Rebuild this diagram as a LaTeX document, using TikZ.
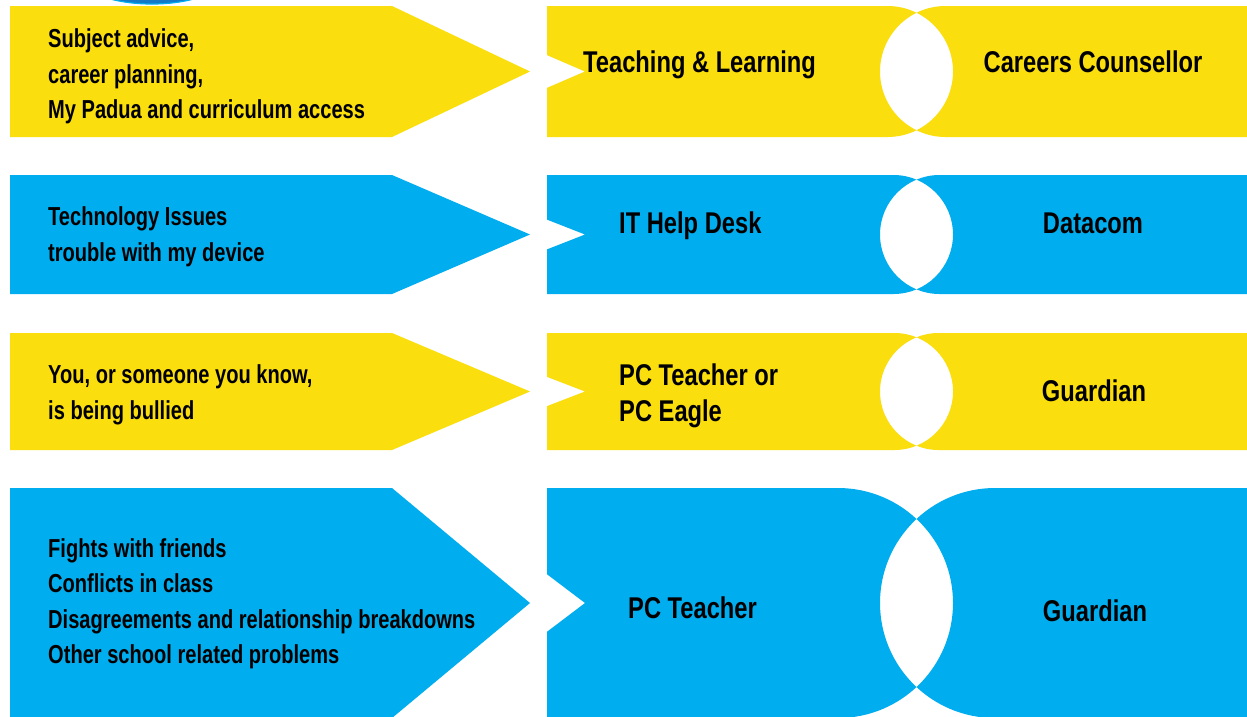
\documentclass[tikz,border=0pt]{standalone}
\usepackage{fontspec}
\setmainfont{Liberation Sans}[FakeStretch=0.79]
\newfontfamily\leftfont{Liberation Sans}[FakeStretch=0.772]
\definecolor{ylw}{RGB}{250,222,14}
\definecolor{blu}{RGB}{0,173,238}
\definecolor{bludark}{RGB}{20,120,200}
\newcommand{\rowband}[3]{%
  \pgfmathsetmacro\bandT{#1}\pgfmathsetmacro\bandB{#2}%
  \pgfmathsetmacro\bandC{(#1+#2)/2}\pgfmathsetmacro\bandH{(#2-#1)/2}%
  \pgfmathsetmacro\bandN{0.125*(#2-#1)}%
  \pgfmathsetmacro\bandL{953-\bandH}\pgfmathsetmacro\bandR{880+\bandH}%
  \fill[#3] (10,-\bandT) -- (392,-\bandT) -- (530,-\bandC) -- (392,-\bandB) -- (10,-\bandB) -- cycle;
  \fill[#3, even odd rule] (547,-\bandT) -- (\bandL,-\bandT)
      arc[start angle=90,end angle=-90,radius=\bandH] -- (547,-\bandB)
      -- (547,{-\bandC-\bandN}) -- (585,-\bandC) -- (547,{-\bandC+\bandN}) -- cycle
    (1247,-\bandT) -- (\bandR,-\bandT)
      arc[start angle=90,end angle=270,radius=\bandH] -- (1247,-\bandB) -- cycle;
}
\tikzset{
  lefttext/.style={anchor=base west, inner sep=0pt, align=left,
    font=\leftfont\bfseries\fontsize{26}{35.5}\selectfont},
  midtext/.style={anchor=base west, inner sep=0pt, align=left,
    font=\bfseries\fontsize{30}{36.7}\selectfont},
  righttext/.style={anchor=base, inner sep=0pt,
    font=\bfseries\fontsize{30}{36.7}\selectfont}
}
\begin{document}
\begin{tikzpicture}[x=1pt,y=1pt]
\useasboundingbox (0,0) rectangle (1247,-716);
\clip (0,0) rectangle (1247,-716);
\fill[white] (0,0) rectangle (1247,-716);
% partial blue disc at top
\filldraw[fill=bludark, draw=blu, line width=1.2pt] (152,20) ellipse [x radius=68, y radius=24];
\rowband{6}{137}{ylw}
\rowband{175}{294}{blu}
\rowband{333}{450}{ylw}
\rowband{488}{718}{blu}
% left texts (anchored at the baseline of the last line)
\node[lefttext] (l1) at (48,-118.5) {Subject advice,\\career planning,\\My Padua and curriculum access};
\node[lefttext] (l2) at (48,-261) {Technology Issues\\trouble with my device};
\node[lefttext] (l3) at (48,-419) {You, or someone you know,\\is being bullied};
\node[lefttext] (l4) at (48,-663.5) {Fights with friends\\Conflicts in class\\Disagreements and relationship breakdowns\\Other school related problems};
% middle texts
\node[midtext] (m1) at (583,-72) {Teaching \& Learning};
\node[midtext] (m2) at (619,-233) {IT Help Desk};
\node[midtext] (m3) at (619,-421.7) {PC Teacher or\\PC Eagle};
\node[midtext] (m4) at (628,-618) {PC Teacher};
% right texts
\node[righttext] (r1) at (1093,-72) {Careers Counsellor};
\node[righttext] (r2) at (1093,-233) {Datacom};
\node[righttext] (r3) at (1094,-401) {Guardian};
\node[righttext] (r4) at (1095,-621) {Guardian};
\end{tikzpicture}
\end{document}
